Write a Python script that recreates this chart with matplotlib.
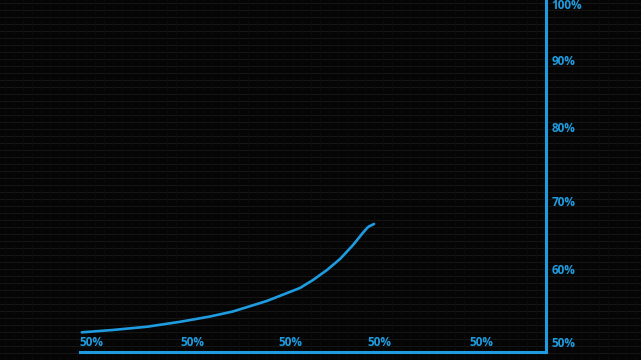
import numpy as np
import matplotlib.pyplot as plt

# curve (x = progress, y = percent)
curve_x = [0.4, 7.1, 14.4, 21.5, 27.9, 32.8, 40.1, 47.2, 50.0, 53.0,
           55.8, 58.6, 60.5, 61.6, 62.0, 63.1]
curve_y = [51.43, 51.78, 52.26, 52.99, 53.77, 54.51, 56.07, 57.99, 59.17, 60.65,
           62.28, 64.35, 65.98, 66.86, 67.09, 67.46]

# bottom labels (all read "50%")
xlab_pos = [2.4, 24.2, 45.1, 64.2, 86.1]
xlab_txt = ["50%", "50%", "50%", "50%", "50%"]

# right labels, placed where they sit in the picture
ylab_pos = [50.0, 60.8, 70.9, 81.8, 91.7, 100.0]
ylab_txt = ["50%", "60%", "70%", "80%", "90%", "100%"]

blue = "#1f9ce0"
bg = "#050505"

fig = plt.figure(figsize=(6.41, 3.6), dpi=100, facecolor=bg)

# faint scanline grid in the background
bgax = fig.add_axes([0, 0, 1, 1])
bgax.set_xlim(0, 641)
bgax.set_ylim(360, 0)
bgax.set_facecolor(bg)
for yy in np.arange(3, 360, 7):
    bgax.axhline(yy, color="#161616", lw=0.8)
for xx in np.arange(5, 641, 9):
    bgax.axvline(xx, color="#0c0c0c", lw=0.6)
bgax.axis("off")

ax = fig.add_axes([80 / 641, 8 / 360, 466 / 641, 352 / 360])
ax.set_facecolor("none")
ax.set_xlim(0, 100)
ax.set_ylim(50 - 10 / 6.76, 50 + 342 / 6.76)

ax.plot(curve_x, curve_y, color=blue, lw=1.9, solid_capstyle="round",
        solid_joinstyle="round")

for s in ["top", "left"]:
    ax.spines[s].set_visible(False)
for s in ["bottom", "right"]:
    ax.spines[s].set_color(blue)
    ax.spines[s].set_linewidth(2.2)

ax.set_xticks([])
ax.yaxis.tick_right()
ax.set_yticks(ylab_pos, ylab_txt)
ax.tick_params(axis="y", length=0, pad=4, labelcolor=blue, labelsize=8.5)
for t in ax.get_yticklabels():
    t.set_fontfamily("Open Sans")
    t.set_fontweight("bold")

for xp, tx in zip(xlab_pos, xlab_txt):
    ax.text(xp, 50.0, tx, ha="center", va="center", color=blue,
            fontsize=8.5, fontfamily="Open Sans", fontweight="bold")

fig.savefig("out.png", dpi=100, facecolor=bg)
